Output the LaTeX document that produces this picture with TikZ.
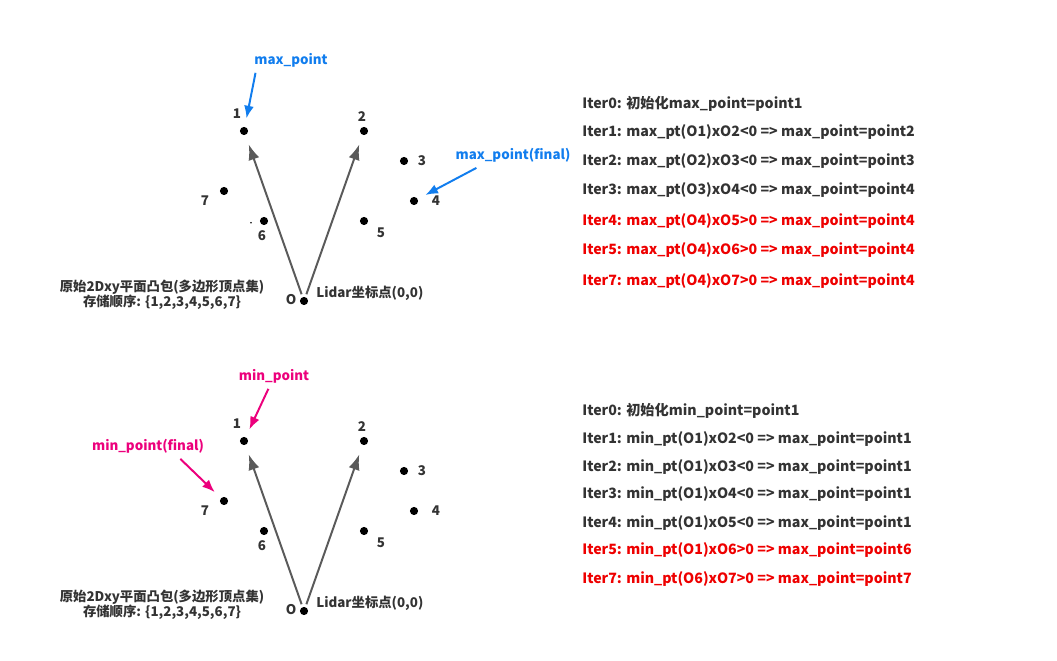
\documentclass[tikz,border=0pt]{standalone}
\usepackage{fontspec}
\setmainfont{Noto Sans CJK SC}
\usetikzlibrary{arrows.meta}
\definecolor{txtgray}{RGB}{51,51,51}
\definecolor{itred}{RGB}{238,0,0}
\definecolor{maxblue}{RGB}{17,125,238}
\definecolor{minpink}{RGB}{236,0,124}
\definecolor{vecgray}{RGB}{90,90,90}

\begin{document}
\begin{tikzpicture}[x=0.025cm,y=-0.025cm,
    font=\fontsize{9.5}{11}\selectfont\bfseries,
    pt/.style={circle,fill=black,inner sep=0pt,minimum size=5.8pt},
    num/.style={text=txtgray,inner sep=0pt},
    itline/.style={anchor=west,inner sep=0pt,font=\fontsize{10.1}{12}\selectfont\bfseries},
    vec/.style={draw=vecgray,line width=1.4pt,-{Latex[length=11pt,width=8pt]},shorten >=7pt,shorten <=2pt},
    hint/.style={line width=1.4pt,-{Latex[length=9pt,width=7pt]},shorten >=6pt}]
    \useasboundingbox (0,0) rectangle (1057,661);

    % two copies of the hull, max above and min below
    \foreach \p/\dy in {a/0,b/310} {
        \begin{scope}[shift={(0,\dy)}]
            \foreach \n/\x/\y/\lx/\ly in {1/244/131/237/114, 2/364/131/362/117, 3/404/161/422/161,
                    4/414/201/436/201, 5/364/221/381/233, 6/264/221/262/236, 7/224/191/205/201} {
                \node[pt] (\p\n) at (\x,\y) {};
                \node[num] (\p\n-l) at (\lx,\ly) {\n};
            }
            \node[pt] (\p O) at (304,301) {};
            \node[num] (\p O-l) at (291,300) {O};
            \node[num,anchor=west] (\p lidar) at (316,293) {Lidar坐标点(0,0)};
            \node[num,align=center] (\p hull) at (162,295) {原始2Dxy平面凸包(多边形顶点集)\\存储顺序: \{1,2,3,4,5,6,7\}};
            \draw[vec] (\p O) -- (\p 1);
            \draw[vec] (\p O) -- (\p 2);
        \end{scope}
    }
    \fill (251,222.7) circle (0.6pt);

    % max_point hints
    \node[text=maxblue,inner sep=0pt] (maxlbl) at (291,60) {max\_point};
    \node[text=maxblue,inner sep=0pt] (maxfin) at (513,155) {max\_point(final)};
    \draw[hint,maxblue] ([xshift=1pt,yshift=-4pt]maxlbl.south west) -- (a1);
    \draw[hint,maxblue] ([xshift=15pt,yshift=-4pt]maxfin.south west) -- (a4);

    % min_point hints
    \node[text=minpink,inner sep=0pt] (minlbl) at (274,376) {min\_point};
    \node[text=minpink,inner sep=0pt] (minfin) at (148,446) {min\_point(final)};
    \draw[hint,minpink] ([xshift=-4pt,yshift=-4pt]minlbl.south) -- (b1);
    \draw[hint,minpink] ([xshift=23pt,yshift=-4pt]minfin.south) -- (b7);

    % iteration log, max
    \foreach \y/\c/\t [count=\i] in {104/txtgray/{Iter0: 初始化max\_point=point1},
            131.7/txtgray/{Iter1: max\_pt(O1)xO2<0 => max\_point=point2},
            161/txtgray/{Iter2: max\_pt(O2)xO3<0 => max\_point=point3},
            190.3/txtgray/{Iter3: max\_pt(O3)xO4<0 => max\_point=point4},
            221.3/itred/{Iter4: max\_pt(O4)xO5>0 => max\_point=point4},
            250.3/itred/{Iter5: max\_pt(O4)xO6>0 => max\_point=point4},
            281/itred/{Iter7: max\_pt(O4)xO7>0 => max\_point=point4}}
        \node[itline,text=\c] (maxit\i) at (582,\y) {\t};

    % iteration log, min
    \foreach \y/\c/\t [count=\i] in {410.7/txtgray/{Iter0: 初始化min\_point=point1},
            439.3/txtgray/{Iter1: min\_pt(O1)xO2<0 => max\_point=point1},
            466.7/txtgray/{Iter2: min\_pt(O1)xO3<0 => max\_point=point1},
            494.3/txtgray/{Iter3: min\_pt(O1)xO4<0 => max\_point=point1},
            522.7/txtgray/{Iter4: min\_pt(O1)xO5<0 => max\_point=point1},
            550.3/itred/{Iter5: min\_pt(O1)xO6>0 => max\_point=point6},
            579/itred/{Iter7: min\_pt(O6)xO7>0 => max\_point=point7}}
        \node[itline,text=\c] (minit\i) at (582,\y) {\t};
\end{tikzpicture}
\end{document}
